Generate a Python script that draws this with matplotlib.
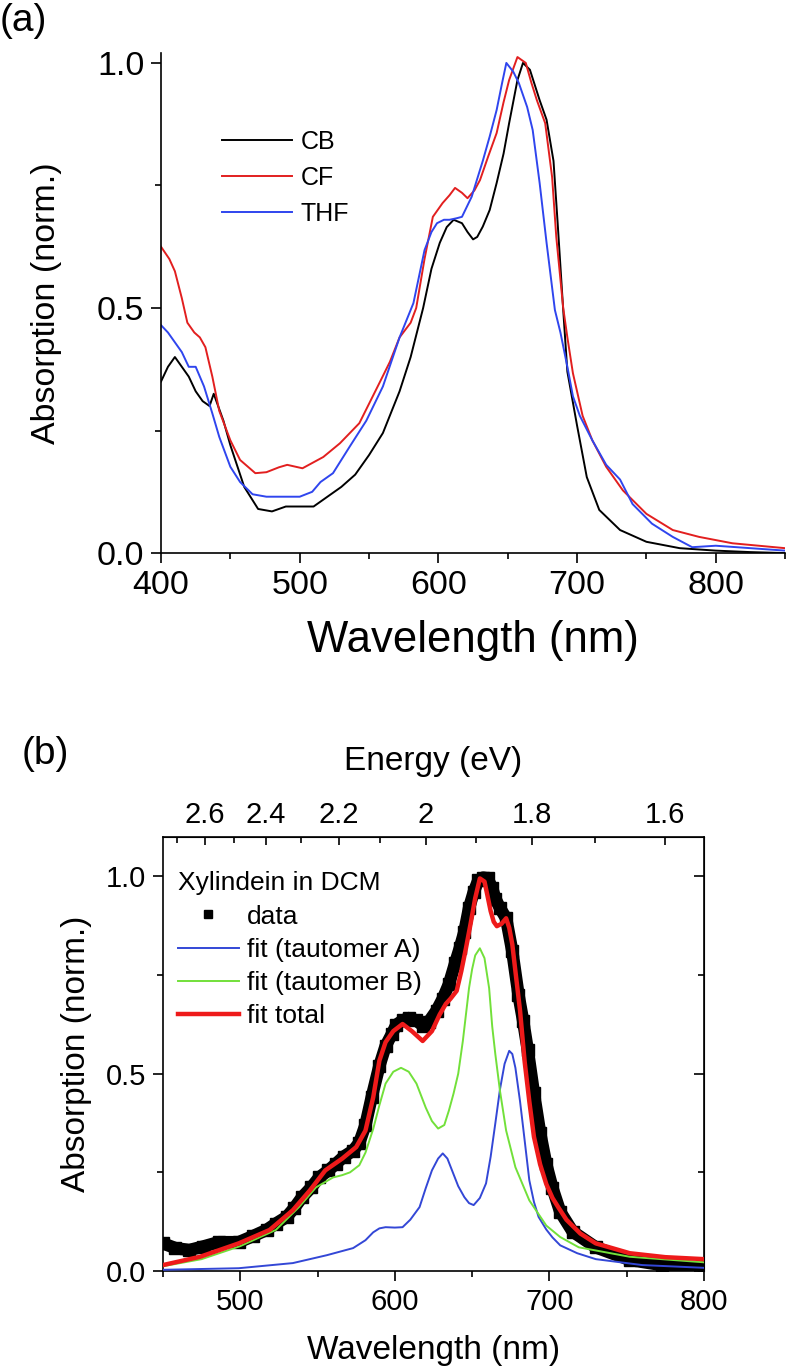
import numpy as np
import matplotlib
matplotlib.use("Agg")
import matplotlib.pyplot as plt
from matplotlib.ticker import MultipleLocator, FixedLocator

plt.rcParams["font.family"] = ["Liberation Sans", "DejaVu Sans"]

# ---- panel (a): normalised absorption in three solvents ----
wl_cb = [400, 405, 410, 415, 420, 425, 430, 435, 438, 445, 450, 460, 470, 480, 490, 500,
         510, 520, 530, 540, 550, 560, 572, 580, 589, 595, 601, 606, 611, 617, 621, 625,
         628, 632, 637, 642, 647, 651, 657, 661, 666, 673, 678, 683, 686, 690, 693, 700,
         707, 716, 731, 750, 774, 800, 825, 850]
abs_cb = [0.35, 0.38, 0.40, 0.38, 0.36, 0.33, 0.31, 0.30, 0.325, 0.27, 0.22, 0.135, 0.09,
          0.085, 0.095, 0.095, 0.095, 0.115, 0.135, 0.16, 0.20, 0.245, 0.33, 0.40, 0.50,
          0.58, 0.633, 0.665, 0.68, 0.673, 0.655, 0.64, 0.645, 0.666, 0.70, 0.755, 0.815,
          0.877, 0.965, 1.0, 0.986, 0.924, 0.884, 0.80, 0.673, 0.496, 0.37, 0.26, 0.155,
          0.088, 0.047, 0.023, 0.01, 0.005, 0.002, 0.0]

wl_cf = [400, 406, 410, 415, 419, 424, 428, 432, 437, 442, 450, 457, 468, 476, 485, 491,
         502, 517, 529, 543, 558, 565, 572, 580, 584, 590, 596, 603, 608, 612, 617, 621,
         626, 630, 636, 642, 647, 651, 657, 663, 667, 671, 677, 682, 685, 690, 693, 697,
         704, 711, 721, 733, 750, 769, 788, 812, 850]
abs_cf = [0.625, 0.60, 0.575, 0.52, 0.47, 0.45, 0.44, 0.42, 0.36, 0.29, 0.23, 0.19, 0.163,
          0.165, 0.175, 0.18, 0.173, 0.196, 0.224, 0.265, 0.35, 0.39, 0.44, 0.47, 0.50,
          0.60, 0.686, 0.714, 0.73, 0.745, 0.735, 0.724, 0.74, 0.761, 0.81, 0.857, 0.92,
          0.965, 1.012, 1.0, 0.96, 0.924, 0.877, 0.767, 0.645, 0.50, 0.44, 0.367, 0.28,
          0.23, 0.176, 0.128, 0.08, 0.047, 0.033, 0.02, 0.01]

wl_thf = [400, 405, 410, 415, 420, 425, 431, 437, 442, 450, 457, 466, 476, 490, 500, 509,
          515, 524, 536, 548, 560, 572, 582, 590, 595, 599, 604, 608, 613, 617, 624, 632,
          637, 642, 646, 649, 654, 658, 664, 668, 673, 678, 684, 688, 693, 697, 702, 711,
          721, 731, 740, 754, 769, 783, 800, 825, 850]
abs_thf = [0.465, 0.45, 0.43, 0.41, 0.38, 0.38, 0.34, 0.285, 0.237, 0.176, 0.145, 0.12,
           0.115, 0.115, 0.115, 0.125, 0.145, 0.163, 0.217, 0.27, 0.34, 0.44, 0.51, 0.618,
           0.655, 0.673, 0.68, 0.68, 0.683, 0.686, 0.727, 0.80, 0.85, 0.904, 0.96, 1.0,
           0.982, 0.959, 0.91, 0.863, 0.755, 0.633, 0.496, 0.45, 0.38, 0.32, 0.28, 0.23,
           0.18, 0.15, 0.10, 0.06, 0.033, 0.012, 0.015, 0.01, 0.005]

# ---- panel (b): Xylindein in DCM with fits ----
wl_data = [450, 458, 467, 476, 486, 499, 508, 517, 523, 530, 535, 540, 546, 551, 557, 562,
           567, 573, 577, 581, 585, 590, 594, 598, 601, 605, 609, 614, 618, 622, 627, 631,
           635, 639, 642, 645, 648, 651, 654, 657, 660, 663, 665, 668, 672, 676, 680, 683,
           686, 690, 694, 698, 702, 707, 715, 730, 752, 773, 800]
abs_data = [0.07, 0.058, 0.053, 0.062, 0.073, 0.073, 0.088, 0.104, 0.12, 0.137, 0.16,
            0.187, 0.212, 0.237, 0.255, 0.272, 0.29, 0.305, 0.325, 0.37, 0.44, 0.52, 0.57,
            0.60, 0.624, 0.635, 0.641, 0.635, 0.622, 0.632, 0.66, 0.69, 0.727, 0.78, 0.818,
            0.86, 0.92, 0.96, 0.99, 0.997, 0.995, 0.97, 0.944, 0.92, 0.894, 0.81, 0.70,
            0.634, 0.56, 0.45, 0.35, 0.27, 0.21, 0.15, 0.10, 0.06, 0.028, 0.015, 0.008]

wl_a = [450, 499, 534, 556, 573, 581, 586, 590, 594, 600, 605, 610, 616, 620, 624, 628,
        631, 634, 637, 641, 645, 648, 651, 655, 659, 662, 665, 668, 671, 674, 676, 678,
        681, 683, 687, 690, 693, 698, 702, 707, 718, 730, 760, 800]
abs_a = [0.003, 0.007, 0.02, 0.04, 0.058, 0.078, 0.098, 0.108, 0.111, 0.11, 0.111, 0.13,
         0.162, 0.21, 0.255, 0.285, 0.298, 0.285, 0.255, 0.215, 0.187, 0.172, 0.167,
         0.185, 0.222, 0.29, 0.374, 0.46, 0.525, 0.558, 0.55, 0.515, 0.43, 0.364, 0.23,
         0.175, 0.137, 0.105, 0.085, 0.065, 0.045, 0.03, 0.015, 0.008]

wl_b = [450, 475, 500, 523, 538, 549, 560, 566, 571, 577, 581, 586, 590, 594, 599, 604,
        609, 614, 620, 624, 628, 632, 635, 638, 641, 644, 646, 648, 650, 652, 655, 658,
        661, 663, 665, 668, 672, 678, 687, 698, 707, 719, 752, 800]
abs_b = [0.012, 0.03, 0.063, 0.104, 0.162, 0.212, 0.237, 0.243, 0.25, 0.268, 0.30, 0.36,
         0.42, 0.475, 0.505, 0.515, 0.505, 0.475, 0.414, 0.38, 0.361, 0.37, 0.407, 0.45,
         0.50, 0.583, 0.65, 0.717, 0.765, 0.80, 0.818, 0.793, 0.717, 0.62, 0.55, 0.457,
         0.356, 0.263, 0.179, 0.115, 0.086, 0.06, 0.036, 0.022]

wl_fit = [450, 474, 499, 519, 534, 545, 555, 566, 575, 581, 586, 590, 594, 599, 605, 611,
          618, 624, 629, 633, 636, 640, 643, 646, 649, 652, 655, 658, 660, 662, 664, 666,
          669, 672, 674, 676, 678, 681, 684, 687, 690, 694, 698, 702, 706, 711, 720, 730,
          752, 775, 800]
abs_fit = [0.015, 0.036, 0.07, 0.104, 0.154, 0.204, 0.255, 0.285, 0.314, 0.356, 0.44,
           0.533, 0.58, 0.608, 0.626, 0.608, 0.583, 0.608, 0.65, 0.677, 0.69, 0.71, 0.76,
           0.818, 0.88, 0.945, 0.995, 0.987, 0.95, 0.912, 0.885, 0.874, 0.88, 0.894, 0.87,
           0.828, 0.76, 0.66, 0.53, 0.43, 0.34, 0.27, 0.22, 0.185, 0.16, 0.13, 0.095, 0.07,
           0.045, 0.035, 0.03]

energy_ticks = [2.6, 2.4, 2.2, 2.0, 1.8, 1.6]
energy_labels = ["2.6", "2.4", "2.2", "2", "1.8", "1.6"]
energy_minor = [2.7, 2.5, 2.3, 2.1, 1.9, 1.7]

fig = plt.figure(figsize=(7.87, 13.69), dpi=100)

# -- panel (a) --
ax1 = fig.add_axes([0.2046, 0.596, 0.793, 0.3652])
ax1.plot(wl_cb, abs_cb, color="black", lw=1.4, label="CB")
ax1.plot(wl_cf, abs_cf, color="#e21f1f", lw=1.4, label="CF")
ax1.plot(wl_thf, abs_thf, color="#2f45ee", lw=1.4, label="THF")
ax1.set_xlim(400, 850)
ax1.set_ylim(0, 1.02)
ax1.spines["top"].set_visible(False)
ax1.spines["right"].set_visible(False)
for s in ("left", "bottom"):
    ax1.spines[s].set_linewidth(1.2)
ax1.set_xticks([400, 500, 600, 700, 800])
ax1.xaxis.set_minor_locator(MultipleLocator(50))
ax1.set_yticks([0.0, 0.5, 1.0])
ax1.set_yticklabels(["0.0", "0.5", "1.0"])
ax1.yaxis.set_minor_locator(MultipleLocator(0.25))
ax1.tick_params(which="major", direction="out", length=7, width=1.2, labelsize=24.5, pad=5)
ax1.tick_params(which="minor", direction="out", length=4, width=1.2)
ax1.set_xlabel("Wavelength (nm)", fontsize=31.5, labelpad=14)
ax1.set_ylabel("Absorption (norm.)", fontsize=24.5, labelpad=25)
ax1.legend(loc="upper left", bbox_to_anchor=(0.098, 0.846), frameon=False, fontsize=18,
           handlelength=2.8, handletextpad=0.35, labelspacing=0.48, borderpad=0,
           borderaxespad=0)
fig.text(0.0, 0.985, "(a)", fontsize=28, ha="left", va="center")

# -- panel (b) --
ax2 = fig.add_axes([0.2071, 0.0716, 0.6874, 0.317])
ax2.plot(wl_data, abs_data, color="black", lw=9, solid_capstyle="butt", zorder=2)
ax2.plot(wl_data, abs_data, "s", color="black", ms=8, label="data", zorder=2)
ax2.plot(wl_a, abs_a, color="#3347d6", lw=1.4, label="fit (tautomer A)", zorder=3)
ax2.plot(wl_b, abs_b, color="#72e03a", lw=1.4, label="fit (tautomer B)", zorder=3)
ax2.plot(wl_fit, abs_fit, color="#ee1a1a", lw=3.2, label="fit total", zorder=4)
ax2.set_xlim(450, 800)
ax2.set_ylim(0, 1.1)
for s in ax2.spines.values():
    s.set_linewidth(1.2)
ax2.set_xticks([500, 600, 700, 800])
ax2.xaxis.set_minor_locator(MultipleLocator(50))
ax2.set_yticks([0.0, 0.5, 1.0])
ax2.set_yticklabels(["0.0", "0.5", "1.0"])
ax2.yaxis.set_minor_locator(MultipleLocator(0.25))
ax2.tick_params(which="major", direction="out", length=7, width=1.2, labelsize=21, pad=5)
ax2.tick_params(which="minor", direction="out", length=4, width=1.2)
ax2.set_xlabel("Wavelength (nm)", fontsize=24, labelpad=14)
ax2.set_ylabel("Absorption (norm.)", fontsize=24, labelpad=10)

# energy axis on top
top = ax2.secondary_xaxis("top", functions=(lambda x: 1240.0 / x, lambda e: 1240.0 / e))
top.xaxis.set_major_locator(FixedLocator(energy_ticks))
top.set_xticklabels(energy_labels)
top.xaxis.set_minor_locator(FixedLocator(energy_minor))
top.tick_params(which="major", direction="in", length=6, width=1.2, labelsize=21, pad=6)
top.tick_params(which="minor", direction="in", length=4, width=1.2)
top.set_xlabel("Energy (eV)", fontsize=24, labelpad=22)

# mirrored ticks on the right, pointing in
right = ax2.secondary_yaxis("right")
right.set_yticks([0.0, 0.5, 1.0])
right.yaxis.set_minor_locator(MultipleLocator(0.25))
right.set_yticklabels([])
right.tick_params(which="major", direction="in", length=7, width=1.2)
right.tick_params(which="minor", direction="in", length=4, width=1.2)

ax2.legend(loc="upper left", bbox_to_anchor=(0.028, 0.921), frameon=False,
           fontsize=19, title="Xylindein in DCM", title_fontsize=19,
           handlelength=2.3, handletextpad=0.3, labelspacing=0.35, borderpad=0,
           borderaxespad=0, numpoints=1, markerscale=0.8, alignment="left")
fig.text(0.028, 0.449, "(b)", fontsize=28, ha="left", va="center")

fig.savefig("out.png", dpi=100)
